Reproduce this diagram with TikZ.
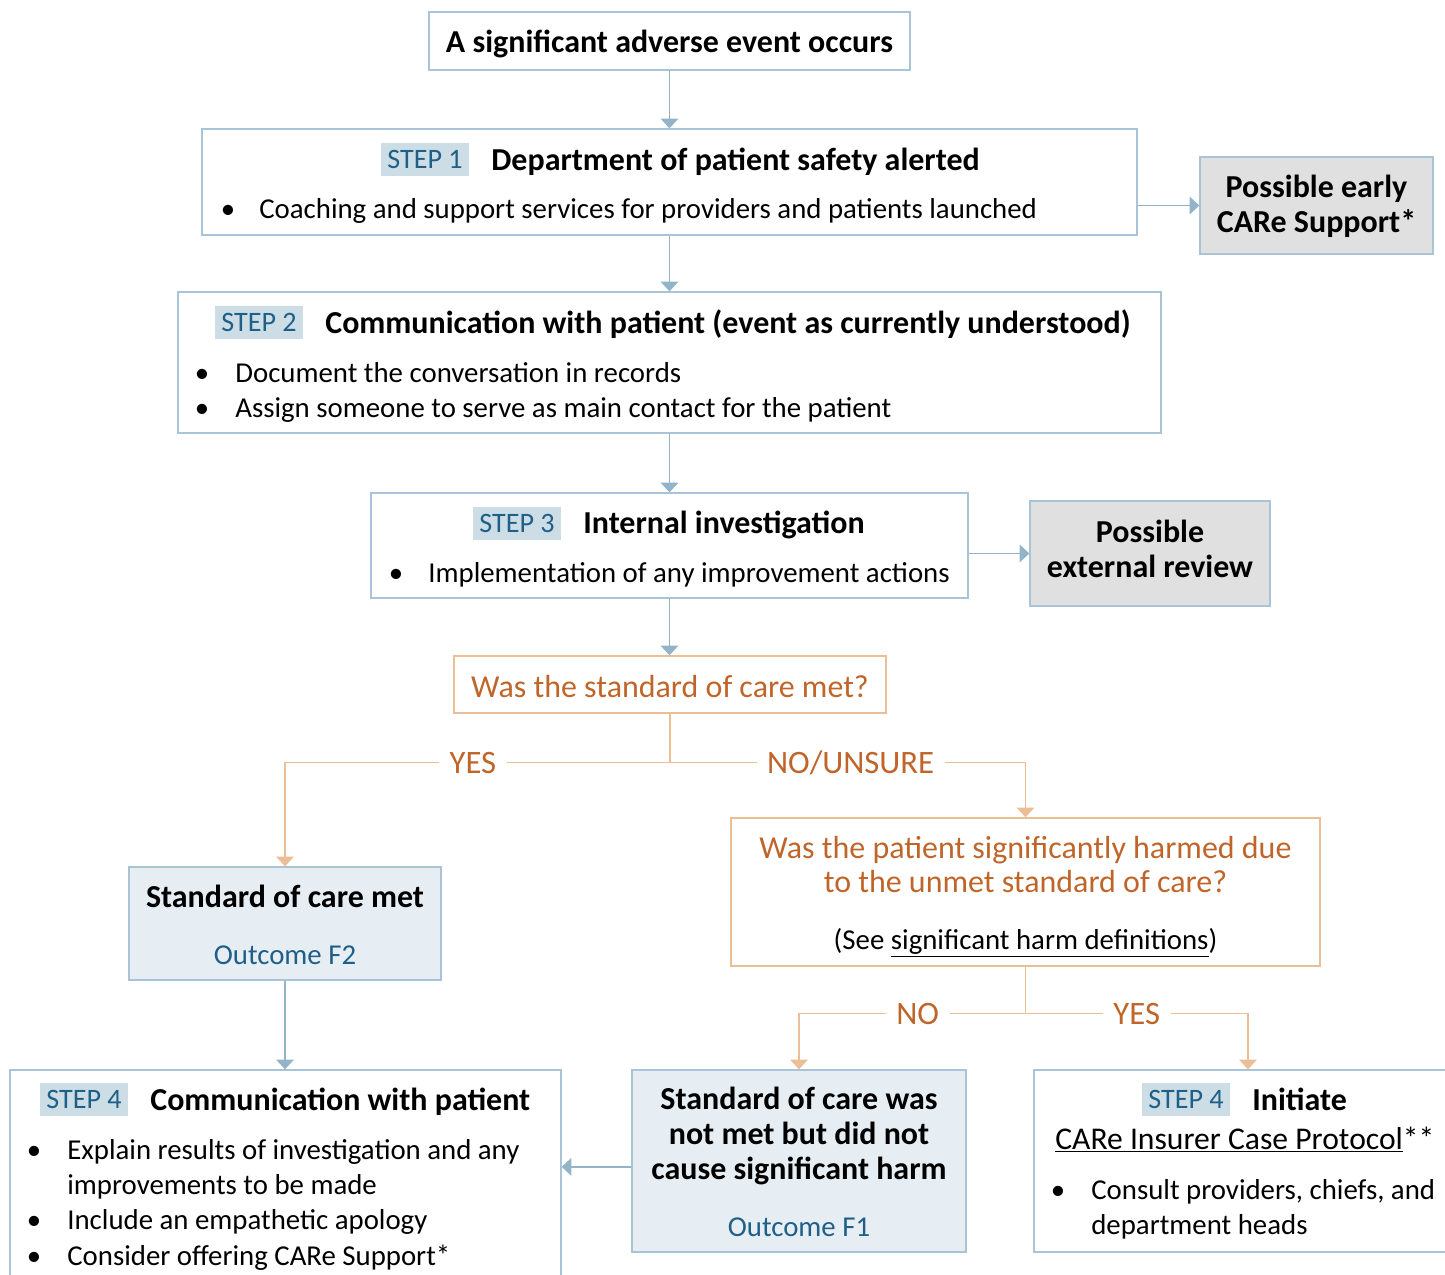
\documentclass[tikz,border=0pt]{standalone}
\usepackage{fontspec}
\setmainfont{Carlito}
\usetikzlibrary{arrows.meta}

\definecolor{boxline}{HTML}{A9C4D6}
\definecolor{arrowblue}{HTML}{93B3C8}
\definecolor{tagfill}{HTML}{CCDDE6}
\definecolor{tagtext}{HTML}{1F5F88}
\definecolor{orangetext}{HTML}{C0652A}
\definecolor{orangeline}{HTML}{EBBE97}
\definecolor{grayfill}{HTML}{E0E0E0}
\definecolor{palefill}{HTML}{E6EEF3}

\tikzset{
  bluebox/.style={draw=boxline, line width=0.8pt, inner sep=0pt},
  orangebox/.style={draw=orangeline, line width=0.8pt, inner sep=0pt},
  txt/.style={font=\fontsize{16.4}{19.5}\selectfont, inner sep=0pt},
  ttl/.style={font=\fontsize{18.2}{19.8}\selectfont\bfseries, inner sep=0pt},
  qtxt/.style={font=\fontsize{18.2}{19.4}\selectfont, text=orangetext, inner sep=0pt},
  steptag/.style={fill=tagfill, text=tagtext, font=\fontsize{16}{18}\selectfont,
    minimum width=1.76cm, minimum height=0.66cm, inner sep=0pt},
  barrow/.style={draw=arrowblue, line width=0.8pt,
    -{Triangle[width=10pt,length=5.5pt]}},
  oarrow/.style={draw=orangeline, line width=0.8pt,
    -{Triangle[width=10pt,length=5.5pt]}},
  oline/.style={draw=orangeline, line width=0.8pt},
  olabel/.style={fill=white, text=orangetext, font=\fontsize{18.6}{20}\selectfont,
    inner sep=6pt}
}

\begin{document}
\begin{tikzpicture}[x=0.02cm, y=-0.02cm]
  \useasboundingbox (0,0) rectangle (1445,1275);

  % boxes
  \node[bluebox, minimum width=9.62cm, minimum height=1.16cm] (top) at (669.5,41) {};
  \node[bluebox, minimum width=18.7cm, minimum height=2.12cm] (step1) at (669.5,182) {};
  \node[bluebox, fill=grayfill, minimum width=4.66cm, minimum height=1.94cm] (early) at (1316.5,205.5) {};
  \node[bluebox, minimum width=19.66cm, minimum height=2.82cm] (step2) at (669.5,362.5) {};
  \node[bluebox, minimum width=11.94cm, minimum height=2.1cm] (step3) at (669.5,545.5) {};
  \node[bluebox, fill=grayfill, minimum width=4.8cm, minimum height=2.1cm] (ext) at (1150,553.5) {};
  \node[orangebox, minimum width=8.64cm, minimum height=1.14cm] (q1) at (670,684.5) {};
  \node[orangebox, minimum width=11.78cm, minimum height=2.96cm] (q2) at (1025.5,892) {};
  \node[bluebox, fill=palefill, minimum width=6.24cm, minimum height=2.26cm] (met) at (285,923.5) {};
  \node[bluebox, fill=palefill, minimum width=6.68cm, minimum height=3.64cm] (notmet) at (799,1161) {};
  \node[bluebox, minimum width=11.02cm, minimum height=4.4cm] (stepA) at (285.5,1180) {};
  \node[bluebox, minimum width=8.52cm, minimum height=3.64cm] (stepB) at (1247,1161) {};

  % texts
  \node[ttl, anchor=base] (toptxt) at (669.5,52) {A significant adverse event occurs};

  \node[steptag] (tag1) at (425,159.5) {STEP 1};
  \node[ttl, anchor=base west] (ttl1) at (491,170) {Department of patient safety alerted};
  \node[txt, anchor=base] (b1a) at (228,218) {•};
  \node[txt, anchor=base west] (t1a) at (259,218) {Coaching and support services for providers and patients launched};

  \node[ttl, align=center] (earlytxt) at (1316.5,206) {Possible early\\CARe Support*};

  \node[steptag] (tag2) at (259,322.5) {STEP 2};
  \node[ttl, anchor=base west] (ttl2) at (325,333) {Communication with patient (event as currently understood)};
  \node[txt, anchor=base] (b2a) at (202,382) {•};
  \node[txt, anchor=base west] (t2a) at (235,382) {Document the conversation in records};
  \node[txt, anchor=base] (b2b) at (202,417) {•};
  \node[txt, anchor=base west] (t2b) at (235,417) {Assign someone to serve as main contact for the patient};

  \node[steptag] (tag3) at (517,523.5) {STEP 3};
  \node[ttl, anchor=base west] (ttl3) at (583,533) {Internal investigation};
  \node[txt, anchor=base] (b3a) at (396,582) {•};
  \node[txt, anchor=base west] (t3a) at (428,582) {Implementation of any improvement actions};

  \node[ttl, align=center] (exttxt) at (1150,549) {Possible\\external review};

  \node[qtxt] (q1txt) at (670,687) {Was the standard of care met?};

  \node[qtxt, anchor=base] (q2a) at (1025.5,858) {Was the patient significantly harmed due};
  \node[qtxt, anchor=base] (q2b) at (1025.5,892) {to the unmet standard of care?};
  \node[txt, anchor=base] (q2c) at (1025.5,949) {(See \underline{significant harm definitions})};

  \node[ttl, anchor=base] (mettxt) at (285,907) {Standard of care met};
  \node[txt, anchor=base, text=tagtext] (metout) at (285,964) {Outcome F2};

  \node[ttl, align=center] (notmettxt) at (799,1136) {Standard of care was\\not met but did not\\cause significant harm};
  \node[txt, anchor=base, text=tagtext] (notmetout) at (799,1236) {Outcome F1};

  \node[steptag] (tag4a) at (84,1099.5) {STEP 4};
  \node[ttl, anchor=base west] (ttl4a) at (150,1110) {Communication with patient};
  \node[txt, anchor=base] (b4a) at (34,1159) {•};
  \node[txt, anchor=base west] (t4a) at (67,1159) {Explain results of investigation and any};
  \node[txt, anchor=base west] (t4b) at (67,1194) {improvements to be made};
  \node[txt, anchor=base] (b4c) at (34,1229) {•};
  \node[txt, anchor=base west] (t4c) at (67,1229) {Include an empathetic apology};
  \node[txt, anchor=base] (b4d) at (34,1265) {•};
  \node[txt, anchor=base west] (t4d) at (67,1265) {Consider offering CARe Support*};

  \node[steptag] (tag4b) at (1186,1099.5) {STEP 4};
  \node[ttl, anchor=base west] (ttl4b) at (1252,1110) {Initiate};
  \node[txt, font=\fontsize{18}{20}\selectfont, anchor=base west] (t5a) at (1055,1149) {\underline{CARe Insurer Case Protocol}**};
  \node[txt, anchor=base] (b5b) at (1058,1199) {•};
  \node[txt, anchor=base west] (t5b) at (1091,1199) {Consult providers, chiefs, and};
  \node[txt, anchor=base west] (t5c) at (1091,1234) {department heads};

  % connectors
  \draw[barrow] (top) -- (step1);
  \draw[barrow] (step1.east |- early) -- (early.west);
  \draw[barrow] (step1) -- (step2);
  \draw[barrow] (step2) -- (step3);
  \draw[barrow] (step3.east |- ext) -- (ext.west);
  \draw[barrow] (step3.south) -- (step3.south |- q1.north);

  \draw[oline] (q1.south) -- ++(0,49) coordinate (fork1);
  \draw[oarrow] (fork1) -| node[olabel, pos=0.256] (yes1) {YES} (met.north);
  \draw[oarrow] (fork1) -| node[olabel, pos=0.254] (no1) {NO/UNSURE} (q2.north);

  \draw[oline] (q2.south) -- ++(0,47) coordinate (fork2);
  \draw[oarrow] (fork2) -| node[olabel, pos=0.238] (no2) {NO} (notmet.north);
  \draw[oarrow] (fork2) -| node[olabel, pos=0.25] (yes2) {YES} (stepB.north -| 1248,0);

  \draw[barrow] (met.south) -- (met.south |- stepA.north);
  \draw[barrow] (notmet.182) -- (notmet.182 -| stepA.east);
\end{tikzpicture}
\end{document}
